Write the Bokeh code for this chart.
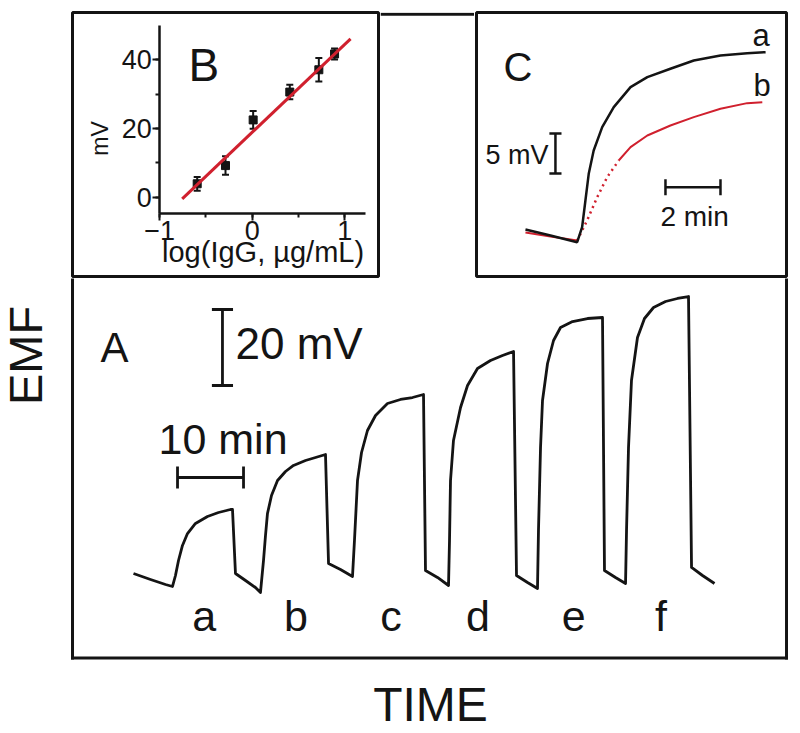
import math
from bokeh.plotting import figure
from bokeh.layouts import column, row
from bokeh.models import (Range1d, Span, Label, Whisker, TeeHead, ColumnDataSource,
                          SingleIntervalTicker)
from bokeh.embed import file_html
from bokeh.resources import INLINE
from bokeh.core.properties import value

FONT = "Liberation Sans"
INK = "#141414"
RED = "#d0202e"

# ---------------- Panel A : EMF vs time (min, mV) ----------------
a_time = [0, 2.58, 4.85, 5.91,
          6.36, 6.82, 7.42, 8.18, 9.39, 11.21, 12.88, 14.70, 15.00,
          15.45, 16.97, 18.48, 19.24,
          19.70, 20.00, 20.30, 20.91, 21.82, 23.03, 24.24, 26.06, 27.58, 29.09,
          29.55, 31.36, 33.18,
          33.48, 33.94, 34.55, 35.45, 36.67, 38.48, 40.45, 42.27, 43.94,
          44.24, 46.06, 47.73,
          47.88, 48.03, 48.48, 49.55, 50.61, 52.12, 54.09, 55.91, 57.58,
          58.03, 59.70, 61.21,
          61.36, 61.67, 61.97, 62.73, 63.64, 64.70, 66.52, 68.79, 71.06,
          71.36, 73.03, 74.55,
          74.70, 75.00, 75.45, 76.36, 77.42, 78.79, 80.61, 82.42, 84.09,
          84.55, 86.21, 88.03]
a_emf = [3.16, 1.58, 0.26, -0.26,
         2.63, 6.58, 10.53, 13.68, 16.32, 18.16, 19.21, 20.00, 20.00,
         3.16, 1.32, -0.53, -1.84,
         6.58, 13.16, 18.95, 23.68, 27.63, 30.00, 31.58, 32.89, 33.68, 34.47,
         5.79, 4.21, 2.37,
         11.84, 27.63, 35.00, 40.79, 44.74, 47.89, 48.95, 49.47, 50.26,
         3.95, 2.11, 0.00,
         11.84, 27.63, 38.16, 46.84, 52.63, 57.11, 59.21, 60.53, 61.58,
         2.63, 0.79, -0.79,
         14.47, 36.32, 48.68, 58.42, 64.47, 67.89, 69.47, 70.26, 70.53,
         3.95, 2.11, 0.53,
         14.47, 36.32, 53.95, 65.26, 70.26, 73.16, 74.74, 75.53, 76.05,
         4.74, 2.63, 0.53]
a_labels = ["a", "b", "c", "d", "e", "f"]
a_label_time = [10.7, 24.6, 39.0, 52.2, 66.7, 79.9]
a_bar_mv = 20          # vertical scale bar (mV)
a_bar_min = 10         # horizontal scale bar (min)

# ---------------- Panel B : calibration ----------------
b_log_igg = [-0.595, -0.289, 0.01, 0.406, 0.72, 0.89]
b_mv = [3.9, 9.2, 22.5, 30.6, 37.1, 41.7]
b_err = [2.0, 2.7, 2.6, 2.1, 3.4, 1.6]
b_fit_x = [-0.757, 1.063]
b_fit_y = [-0.47, 46.1]

# ---------------- Panel C : two responses ----------------
c_time_a = [0, 0.91, 1.88, 2.06, 2.18, 2.30, 2.48, 2.79, 3.21, 3.82, 4.43, 5.27, 6.12, 7.09, 8.06, 8.73]
c_mv_a = [1.59, 0.84, 0.00, 1.88, 5.21, 8.55, 11.46, 14.38, 16.88, 19.38, 20.63, 21.68, 22.71, 23.34, 23.63, 23.75]
c_time_b = [0, 0.91, 1.88, 2.24, 2.61, 2.97, 3.39, 3.82, 4.43, 5.27, 6.12, 7.09, 8.06, 8.61]
c_mv_b = [1.21, 0.71, 0.21, 2.71, 5.63, 8.13, 10.21, 11.88, 13.34, 14.59, 15.63, 16.68, 17.38, 17.50]
c_bar_mv = 5
c_bar_min = 2

SHIFT = 0.38  # em offset the renderer puts below an alphabetic baseline


def txt(p, ppu, x, y, s, px, align="left", angle=0.0):
    d = SHIFT * px
    if angle == 0:
        y = y + d / ppu[1]
    else:
        x = x - d / ppu[0]
    p.add_layout(Label(x=x, y=y, text=s, text_font=FONT, text_font_size=f"{px}px",
                       text_color=INK, text_align=align, text_baseline="alphabetic",
                       angle=angle))


def base_fig(**kw):
    return figure(title=None, toolbar_location=None, output_backend="svg", **kw)


# ================= Panel B figure =================
PB = (92.5, 3.435)
pb = base_fig(width=380, height=278, x_range=Range1d(-1.943, 1.365), y_range=Range1d(-23.09, 53.77),
              min_border_left=72, min_border_right=2, min_border_top=12, min_border_bottom=2)
pb.grid.visible = False
pb.outline_line_color = INK
pb.outline_line_width = 3
xa = pb.xaxis[0]
ya = pb.yaxis[0]
xa.fixed_location = -4.66
ya.fixed_location = -1
xa.bounds = (-1, 1.225)
ya.bounds = (-4.66, 49.9)
xa.ticker = SingleIntervalTicker(interval=1, num_minor_ticks=2)
ya.ticker = SingleIntervalTicker(interval=20, num_minor_ticks=2)
for ax in (xa, ya):
    ax.axis_line_color = INK
    ax.axis_line_width = 2.5
    ax.major_tick_line_color = INK
    ax.major_tick_line_width = 2
    ax.major_tick_in = 0
    ax.major_tick_out = 7
    ax.minor_tick_line_color = INK
    ax.minor_tick_line_width = 2
    ax.minor_tick_in = 0
    ax.minor_tick_out = 4
    ax.major_label_text_font = FONT
    ax.major_label_text_font_size = "27px"
    ax.major_label_text_color = INK
    ax.major_label_standoff = 1

bsrc = ColumnDataSource(dict(x=b_log_igg, y=b_mv,
                             upper=[m + e for m, e in zip(b_mv, b_err)],
                             lower=[m - e for m, e in zip(b_mv, b_err)]))
pb.add_layout(Whisker(source=bsrc, base="x", upper="upper", lower="lower",
                      line_color=INK, line_width=2,
                      upper_head=TeeHead(size=7, line_color=INK, line_width=2),
                      lower_head=TeeHead(size=7, line_color=INK, line_width=2)))
pb.scatter("x", "y", source=bsrc, marker="square", size=8, color=INK)
pb.line(b_fit_x, b_fit_y, line_color=RED, line_width=3)
txt(pb, PB, -0.689, 33.4, "B", 46)
txt(pb, PB, -1.554, 17.1, "mV", 23, align="center", angle=math.pi / 2)
txt(pb, PB, 0.117, -19.3, "log(IgG, \u00b5g/mL)", 29, align="center")

# ================= gap (top border between B and C) =================
pg = base_fig(width=94, height=278, x_range=Range1d(0, 1), y_range=Range1d(0, 278),
              x_axis_location=None, y_axis_location=None,
              min_border_left=0, min_border_right=0, min_border_top=0, min_border_bottom=0)
pg.grid.visible = False
pg.outline_line_color = None
pg.add_layout(Span(location=276.2, dimension="width", line_color=INK, line_width=3))

# ================= Panel C figure =================
PC = (27.5, 8.0)
pc = base_fig(width=314, height=278, x_range=Range1d(-1.78, 9.49), y_range=Range1d(-4.29, 28.71),
              x_axis_location=None, y_axis_location=None,
              min_border_left=2, min_border_right=2, min_border_top=12, min_border_bottom=2)
pc.grid.visible = False
pc.outline_line_color = INK
pc.outline_line_width = 3
# trace b (sampled points: sparse where it rises fast)
pc.line(c_time_b[:3], c_mv_b[:3], line_color=RED, line_width=2)
pc.line(c_time_b[2:7], c_mv_b[2:7], line_color=RED, line_width=2.5, line_dash="2 4")
pc.line(c_time_b[6:], c_mv_b[6:], line_color=RED, line_width=2)
pc.line(c_time_a, c_mv_a, line_color=INK, line_width=2.5)
cbx, cby0 = 1.09, 8.59
pc.segment([cbx, cbx - 0.22, cbx - 0.22], [cby0, cby0, cby0 + c_bar_mv],
           [cbx, cbx + 0.22, cbx + 0.22], [cby0 + c_bar_mv, cby0, cby0 + c_bar_mv],
           line_color=INK, line_width=2.5)
chx0, chy = 5.09, 6.88
pc.segment([chx0, chx0, chx0 + c_bar_min], [chy, chy - 1.0, chy - 1.0],
           [chx0 + c_bar_min, chx0, chx0 + c_bar_min], [chy, chy + 1.0, chy + 1.0],
           line_color=INK, line_width=2.5)
txt(pc, PC, -0.8, 19.96, "C", 40)
txt(pc, PC, 0.84, 9.59, "5 mV", 27, align="right")
txt(pc, PC, 6.15, 1.84, "2 min", 28, align="center")
txt(pc, PC, 8.25, 24.34, "a", 31)
txt(pc, PC, 8.29, 18.09, "b", 31)

# ================= Panel A figure =================
PA = (6.6, 3.8)
pa = base_fig(width=788, height=455, x_range=Range1d(-20.15, 99.24), y_range=Range1d(-38.95, 80.79),
              x_axis_location=None, y_axis_location=None,
              min_border_left=0, min_border_right=0, min_border_top=0, min_border_bottom=0)
pa.grid.visible = False
pa.outline_line_color = None
bl, br, bb, bt = -9.24, 98.94, -19.08, 80.79
pa.segment([bl, br, bl], [bt, bt, bb], [bl, br, br], [bb, bb, bb],
           line_color=INK, line_width=3, line_cap="square")
pa.line(a_time, a_emf, line_color=INK, line_width=2.8, line_join="round")
vbx, vby0 = 13.48, 52.63
pa.segment([vbx, vbx - 1.6, vbx - 1.6], [vby0, vby0, vby0 + a_bar_mv],
           [vbx, vbx + 1.6, vbx + 1.6], [vby0 + a_bar_mv, vby0, vby0 + a_bar_mv],
           line_color=INK, line_width=2.8)
hbx0, hby = 6.67, 28.42
pa.segment([hbx0, hbx0, hbx0 + a_bar_min], [hby, hby - 2.9, hby - 2.9],
           [hbx0 + a_bar_min, hbx0, hbx0 + a_bar_min], [hby, hby + 2.9, hby + 2.9],
           line_color=INK, line_width=2.8)
lab_y = -12.4 + SHIFT * 43 / PA[1]
pa.text(x=a_label_time, y=[lab_y] * len(a_labels), text=a_labels,
        text_font=value(FONT), text_font_size=value("43px"), text_color=INK,
        text_align="center", text_baseline="alphabetic")
txt(pa, PA, -5.0, 58.4, "A", 42)
txt(pa, PA, 15.45, 59.2, "20 mV", 44)
txt(pa, PA, 3.79, 34.2, "10 min", 43)
txt(pa, PA, -13.64, 60.53, "EMF", 47, align="center", angle=math.pi / 2)
txt(pa, PA, 45.0, -36.05, "TIME", 48, align="center")

layout = column(row(pb, pg, pc), pa)
open("out.html", "w").write(file_html(layout, INLINE))
